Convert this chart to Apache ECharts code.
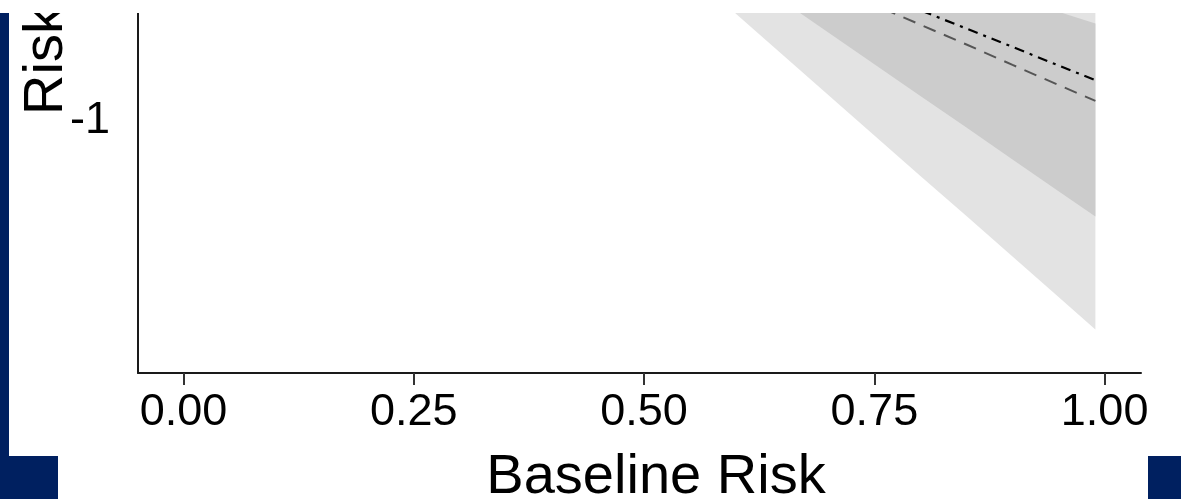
<!DOCTYPE html>
<html>
<head>
<meta charset="utf-8">
<script src="https://cdn.jsdelivr.net/npm/echarts@6/dist/echarts.min.js"></script>
<style>
html,body{margin:0;padding:0;background:#fff;}
#chart{width:1181px;height:499px;}
</style>
</head>
<body>
<div id="chart"></div>
<script>
// ---- data ----
const xTicks = [0, 0.25, 0.5, 0.75, 1.0];
const yTicks = [-1];
const xTitle = 'Baseline Risk';
const yTitle = 'Risk';

const bandX      = [0.55, 0.60, 0.65, 0.70, 0.75, 0.80, 0.85, 0.90, 0.95, 0.99];
const outerLower = [-0.509, -0.643, -0.778, -0.913, -1.048, -1.183, -1.317, -1.452, -1.587, -1.695];
const outerUpper = [-0.05, -0.10, -0.15, -0.20, -0.26, -0.32, -0.38, -0.44, -0.50, -0.55];
const innerLower = [-0.388, -0.493, -0.599, -0.705, -0.811, -0.917, -1.022, -1.128, -1.234, -1.318];
const innerUpper = [-0.20, -0.25, -0.30, -0.35, -0.40, -0.46, -0.52, -0.58, -0.636, -0.675];

const lineX        = [0.65, 0.70, 0.75, 0.80, 0.85, 0.90, 0.95, 0.99];
const dashedLine   = [-0.48, -0.547, -0.613, -0.679, -0.745, -0.813, -0.880, -0.933];
const dotDashLine  = [-0.45, -0.51, -0.57, -0.631, -0.692, -0.753, -0.815, -0.864];

// ---- chart ----
const FONT = 'Liberation Sans, Arial, sans-serif';
const chart = echarts.init(document.getElementById('chart'), null, {renderer: 'canvas'});

function band(lower, upper, color, z) {
  return {
    type: 'custom',
    coordinateSystem: 'cartesian2d',
    clip: true,
    z: z,
    silent: true,
    data: [[bandX[bandX.length - 1], lower[lower.length - 1]]],
    renderItem: function (params, api) {
      const pts = [];
      for (let i = 0; i < bandX.length; i++) pts.push(api.coord([bandX[i], lower[i]]));
      for (let i = bandX.length - 1; i >= 0; i--) pts.push(api.coord([bandX[i], upper[i]]));
      return {type: 'polygon', shape: {points: pts}, style: {fill: color, stroke: null}};
    }
  };
}

const option = {
  animation: false,
  backgroundColor: '#ffffff',
  grid: {left: 138, right: 40, top: 13, bottom: 126, containLabel: false, outerBoundsMode: 'none'},
  xAxis: {
    type: 'value',
    min: -0.0495,
    max: 1.0395,
    axisLine: {show: true, onZero: false, lineStyle: {color: '#1a1a1a', width: 2}},
    axisTick: {show: true, customValues: xTicks, length: 12, lineStyle: {color: '#333', width: 2}},
    axisLabel: {
      customValues: xTicks,
      formatter: function (v) { return v.toFixed(2); },
      fontFamily: FONT, fontSize: 45, color: '#000', margin: 17
    },
    splitLine: {show: false},
    name: xTitle,
    nameLocation: 'middle',
    nameGap: 77,
    nameTextStyle: {fontFamily: FONT, fontSize: 56, color: '#000', padding: [0, 0, 0, 33]}
  },
  yAxis: {
    type: 'value',
    min: -1.84,
    max: -0.64,
    axisLine: {show: true, onZero: false, lineStyle: {color: '#1a1a1a', width: 2}},
    axisTick: {show: false},
    axisLabel: {
      customValues: yTicks,
      formatter: function (v) { return String(v); },
      fontFamily: FONT, fontSize: 45, color: '#000', margin: 28
    },
    splitLine: {show: false}
  },
  series: [
    band(outerLower, outerUpper, '#e3e3e3', 1),
    band(innerLower, innerUpper, '#cccccc', 2),
    {
      type: 'line', z: 3, silent: true, showSymbol: false, symbol: 'none', clip: true,
      data: lineX.map((x, i) => [x, dashedLine[i]]),
      lineStyle: {color: '#555555', width: 2, type: [13, 9]}
    },
    {
      type: 'line', z: 4, silent: true, showSymbol: false, symbol: 'none', clip: true,
      data: lineX.map((x, i) => [x, dotDashLine[i]]),
      lineStyle: {color: '#000000', width: 2.2, type: [10, 6, 3, 6]}
    }
  ],
  graphic: [
    {
      type: 'text', z: 50,
      x: 47, y: 115, rotation: Math.PI / 2,
      style: {text: yTitle, font: '56px ' + FONT, fill: '#000', textAlign: 'left', textVerticalAlign: 'middle'}
    },
    {type: 'rect', z: 100, shape: {x: 0, y: 0, width: 1181, height: 13}, style: {fill: '#ffffff'}},
    {type: 'rect', z: 100, shape: {x: 0, y: 13, width: 9, height: 486}, style: {fill: '#002060'}},
    {type: 'rect', z: 100, shape: {x: 0, y: 456, width: 58, height: 43}, style: {fill: '#002060'}},
    {type: 'rect', z: 100, shape: {x: 1148, y: 456, width: 33, height: 43}, style: {fill: '#002060'}}
  ]
};
chart.setOption(option);
</script>
</body>
</html>
